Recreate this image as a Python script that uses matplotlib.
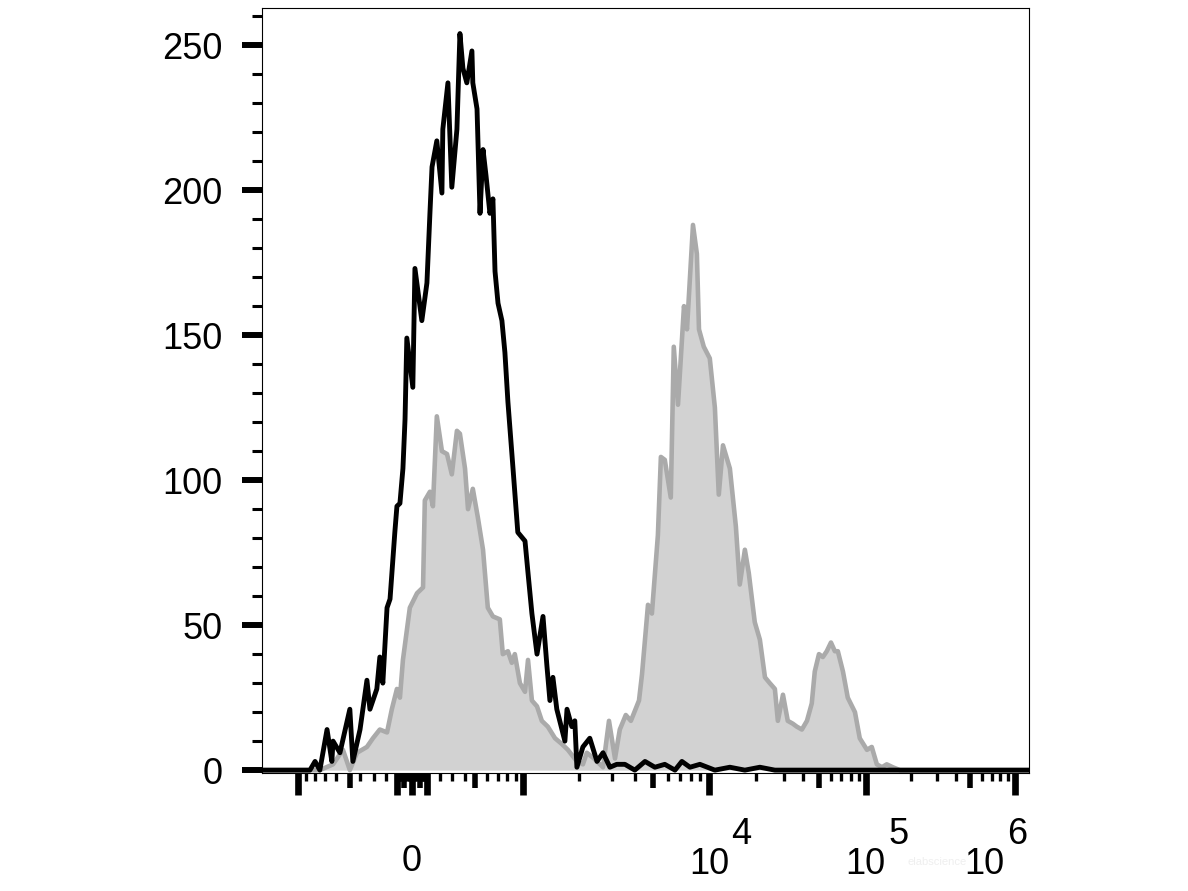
import numpy as np
import matplotlib.pyplot as plt

plt.rcParams['font.family'] = ['Liberation Sans', 'DejaVu Sans']

# histogram data, x in display channels (256 across the axis), y = cell count
black_ch = [0, 12.7, 16, 17.7, 19.3, 21.7, 23.3, 23.7, 26, 29.3, 30.3, 32.7, 35, 36, 38.3, 39.3,
            40.3, 41.7, 42.7, 44.3, 45, 46, 47, 47.7, 48.3, 50.3, 51, 53.3, 55, 56, 56.7, 58.3,
            60, 60.3, 62, 63.3, 65, 66, 67, 68.3, 70, 70.3, 71.7, 72.7, 73.7, 74.7, 76, 77,
            77.7, 78.7, 80, 81, 82, 83.7, 85.3, 87.7, 88.7, 90, 91.7, 93.7, 95, 96, 97, 98.3,
            101, 101.7, 103.3, 104.3, 105, 107, 109.3, 111.7, 113.7, 116, 118.3, 121, 124.3,
            127.7, 131, 134.3, 137.7, 140, 142.7, 146, 151, 156, 161, 166, 171, 255.7]
black_counts = [0, 0, 0, 3, 0, 14, 3, 10, 6, 21, 3, 14, 31, 21, 28, 39,
                30, 56, 59, 82, 91, 92, 104, 121, 149, 132, 173, 155, 168, 192, 208, 217,
                199, 221, 237, 201, 221, 254, 242, 237, 248, 237, 228, 192, 214, 205, 192, 197,
                172, 161, 155, 144, 127, 104, 82, 79, 68, 54, 40, 53, 36, 24, 32, 21,
                10, 21, 15, 17, 1, 8, 11, 3, 6, 1, 2, 2, 0,
                3, 1, 2, 0, 3, 1, 2, 0, 1, 0, 1, 0, 0]

gray_ch = [0, 19.3, 23.7, 27, 29.3, 31.7, 35, 37, 39.3, 41.7, 43.3, 45, 46, 47, 49.3, 51.7,
           53.7, 54.3, 56, 57, 58.3, 60, 61.7, 63.3, 65, 66, 67.7, 68.7, 70.3, 72, 73.7, 75.3,
           77, 79.3, 80.3, 82, 83.3, 84.3, 86, 87.7, 88.7, 90, 91.7, 93.3, 95.3, 97.7, 100, 102,
           105, 107, 108.3, 110.7, 113.7, 115.7, 117.7, 119.3, 121.3, 123, 125.7, 126.7, 128.7,
           130, 132, 133, 134.3, 136.3, 137.3, 138.7, 140.7, 141.7, 143.7, 145, 145.7, 147.3,
           149.3, 151, 152.3, 153.7, 156, 158, 159.3, 161, 162.3, 164.3, 166, 167.7, 169.3, 171,
           172, 173.7, 175.3, 177, 178.3, 180, 181.7, 183.3, 184.3, 185.7, 187, 188.3, 189.7,
           191, 192, 193.7, 195.3, 197.7, 199.3, 201.7, 203.3, 205, 206.7, 208.3, 210.3, 212.7,
           255.7]
gray_counts = [0, 0, 2, 7, 0, 6, 8, 11, 14, 13, 21, 28, 25, 38, 56, 61,
               63, 93, 96, 91, 122, 110, 109, 102, 117, 116, 104, 90, 97, 87, 76, 56,
               53, 52, 40, 41, 37, 40, 30, 27, 38, 24, 22, 17, 15, 11, 9, 7,
               3, 2, 6, 4, 1, 17, 4, 14, 19, 17, 24, 33, 57,
               54, 81, 108, 107, 94, 146, 126, 160, 152, 188, 178, 152, 146,
               142, 125, 95, 112, 104, 84, 64, 76, 68, 51, 45, 32, 30, 28,
               17, 26, 17, 16, 15, 14, 17, 23, 34, 40, 39, 41, 44,
               41, 41, 34, 25, 20, 11, 7, 8, 2, 1, 2, 1, 0,
               0]

# biexponential axis: intensity -> display channel
axis_vals = np.array([-1e3, -500, -300, -200, -100, 0, 100, 200, 300, 500, 1e3, 1e4, 1e5, 1e6])
axis_chan = np.array([12.0, 29.3, 37.3, 41.3, 45.0, 50.0, 55.0, 59.3, 63.3, 71.0, 87.0, 149.0, 201.3, 251.0])


def to_channel(v):
    return np.interp(np.arcsinh(np.asarray(v, float) / 100), np.arcsinh(axis_vals / 100), axis_chan)


big_ticks = [-1000, -100, 0, 100, 1000, 1e4, 1e5, 1e6]
mid_ticks = [-500, -50, 50, 500, 5000, 5e4, 5e5]
small_ticks = []
for d in [10, 100]:
    for k in range(1, 10):
        if k != 5:
            small_ticks += [k * d, -k * d]
for d in [1000, 1e4, 1e5]:
    for k in range(2, 10):
        if k != 5:
            small_ticks.append(k * d)

fig = plt.figure(figsize=(11.88, 8.91), dpi=100)
ax = fig.add_axes([0.2205, 0.1324, 0.6456, 0.8586])

ax.fill_between(gray_ch, gray_counts, 0, color='#d2d2d2', lw=0, zorder=1)
ax.plot(gray_ch, gray_counts, color='#aaaaaa', lw=3.3, zorder=2)
ax.plot(black_ch, black_counts, color='black', lw=3.5, zorder=3)

ax.set_xlim(0, 255.7)
ax.set_ylim(-1, 262.8)

for s in ax.spines.values():
    s.set_linewidth(0.8)

ax.set_yticks(range(0, 251, 50))
ax.set_yticks(range(10, 261, 10), minor=True)
ax.tick_params(axis='y', which='major', length=14.5, width=4.3, labelsize=26, pad=14)
ax.tick_params(axis='y', which='minor', length=7.2, width=2.2)

ax.set_xticks(to_channel(big_ticks))
ax.set_xticks(to_channel(small_ticks), minor=True)
ax.tick_params(axis='x', which='major', length=15.6, width=4.8, labelbottom=False)
ax.tick_params(axis='x', which='minor', length=6, width=2.4)

sec = ax.secondary_xaxis('bottom')
sec.set_xticks(to_channel(mid_ticks))
sec.tick_params(length=10.8, width=4.0, labelbottom=False)
sec.spines['bottom'].set_visible(False)

# x labels: "0", 10^4, 10^5, 10^6
tr = ax.get_xaxis_transform()
ax.annotate('0', xy=(to_channel(0), 0), xycoords=tr, xytext=(0, -64), textcoords='offset points',
            ha='center', va='center', fontsize=26)
for v, exp, dx in [(1e4, '4', 0), (1e5, '5', 0), (1e6, '6', -22)]:
    c = float(to_channel(v))
    ax.annotate('10', xy=(c, 0), xycoords=tr, xytext=(dx, -65.5), textcoords='offset points',
                ha='center', va='center', fontsize=26)
    ax.annotate(exp, xy=(c, 0), xycoords=tr, xytext=(dx + 23.5, -44.6), textcoords='offset points',
                ha='center', va='center', fontsize=26)

fig.text(0.789, 0.032, 'elabscience', fontsize=8, color='#efefef', ha='center', va='center', zorder=0)

fig.savefig('out.png', dpi=100)
